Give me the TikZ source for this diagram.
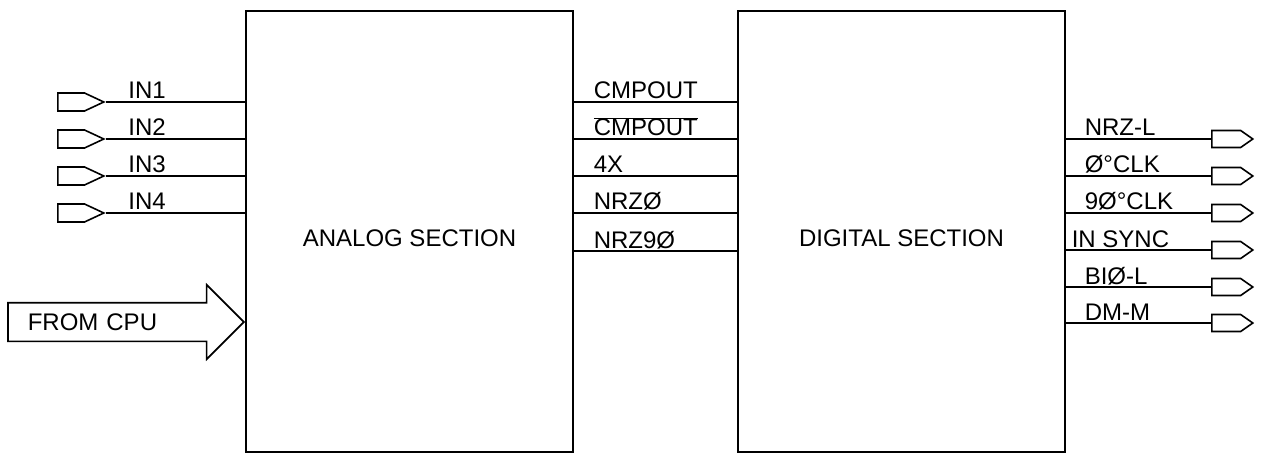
\documentclass[tikz,border=0pt]{standalone}
\usepackage{fontspec}
\setmainfont{Liberation Sans}
\usepackage{tikz}
\usetikzlibrary{
	positioning, calc, shapes.symbols, shapes.arrows
}

\tikzset{
	plotfont/.style={font=\fontsize{24}{27}\selectfont},
	section/.style={draw, line width=2pt, minimum width=327pt, minimum height=441pt},
	wire/.style={line width=1.6pt},
	inpin/.style={signal, signal to=east, draw, line width=1.6pt, inner sep=0pt, anchor=west,
		minimum width=46pt, minimum height=18pt, signal pointer angle=50},
	outpin/.style={signal, signal to=east, draw, line width=1.6pt, inner sep=0pt, anchor=west,
		minimum width=41pt, minimum height=17pt, signal pointer angle=70},
	lbl/.style={anchor=base west, inner sep=0pt, yshift=3pt, plotfont},
	cpuarrow/.style={single arrow, draw, line width=1.6pt, single arrow head extend=18pt,
		text height=17pt, text depth=0pt, inner ysep=10pt, inner xsep=19pt,
		text width=161pt, align=left, plotfont}
}

\begin{document}
\begin{tikzpicture}[x=1pt, y=-1pt]
	\useasboundingbox (0,0) rectangle (1263,465);

	% the two sections
	\node[section, label={[plotfont, yshift=-7pt]center:ANALOG SECTION}] (analog) at (409.5,231.5) {};
	\node[section, label={[plotfont, yshift=-7pt]center:DIGITAL SECTION}] (digital) at (901.5,231.5) {};

	% inputs
	\foreach \i/\y in {1/102,2/139,3/176,4/213}{
		\node[inpin] (in\i) at (57,\y) {};
		\draw[wire] (in\i.east) -- node[lbl, pos=0, xshift=22pt] {IN\i} (analog.west |- in\i.east);
	}

	% from cpu
	\node[cpuarrow, text width=177pt, anchor=tip] (cpu) at (analog.west |- 0,322) {FROM CPU};

	% between the sections
	\foreach \t/\y in {CMPOUT/102, {$\overline{\mbox{CMPOUT}}$}/139, 4X/176, NRZØ/213, NRZ9Ø/251}{
		\draw[wire] (analog.east |- 0,\y) -- node[lbl, pos=0, xshift=19pt] {\t} (digital.west |- 0,\y);
	}

	% outputs
	\foreach \i/\t/\y/\dx in {1/NRZ-L/139/18, 2/Ø°CLK/176/18, 3/9Ø°CLK/213/18,
		4/IN SYNC/250/5, 5/BIØ-L/287/18, 6/DM-M/323/18}{
		\node[outpin] (out\i) at (1211,\y) {};
		\draw[wire] (digital.east |- out\i.west) -- node[lbl, pos=0, xshift=\dx pt] {\t} (out\i.west);
	}
\end{tikzpicture}
\end{document}
